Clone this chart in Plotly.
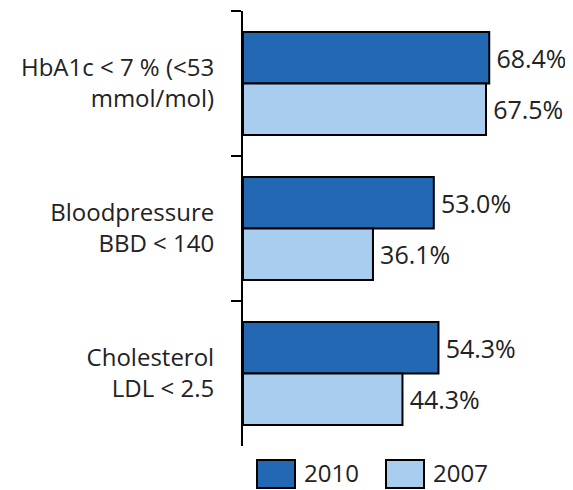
import plotly.graph_objects as go

categories = ["HbA1c < 7 % (<53<br>mmol/mol)", "Bloodpressure<br>BBD < 140", "Cholesterol<br>LDL < 2.5"]
series_names = ["2010", "2007"]
values_2010 = [68.4, 53.0, 54.3]
values_2007 = [67.5, 36.1, 44.3]
colors = ["#2268B2", "#A9CDEE"]

VW, VH = 573, 490
OFF = 8  # page body margin offset of the browser
W, H = VW - OFF, VH - OFF
# target screen positions: axis x=243, plot top y=11, plot bottom y=446
ML = 243 - OFF
MT = 11 - OFF
MB = H - (446 - OFF)
MR = W - ML - 300
FONT = "Open Sans, Noto Sans, sans-serif"
FS_LAB = 24
FS_VAL = 25
FS_LEG = 24

fig = go.Figure()
for name, vals, col in zip(series_names, [values_2010, values_2007], colors):
    fig.add_trace(go.Bar(
        y=categories, x=vals, name=name, orientation="h",
        marker=dict(color=col, line=dict(color="black", width=2)),
        text=[f"\u2009{v:.1f}%" for v in vals], textposition="outside",
        textfont=dict(size=FS_VAL, color="#222", family=FONT),
        cliponaxis=False, showlegend=False,
    ))

# custom legend (large swatches) in paper coordinates
pw = W - ML - MR
ph = H - MT - MB
def px_to_paper_x(px):
    return (px - OFF - ML) / pw
def px_to_paper_y(py):
    return (H - MB - (py - OFF)) / ph

legend_x = [257, 386]
for i, (name, col) in enumerate(zip(series_names, colors)):
    fig.add_shape(type="rect", xref="paper", yref="paper",
                  x0=px_to_paper_x(legend_x[i]), x1=px_to_paper_x(legend_x[i] + 38),
                  y0=px_to_paper_y(460), y1=px_to_paper_y(488),
                  fillcolor=col, line=dict(color="black", width=2))
    fig.add_annotation(xref="paper", yref="paper", x=px_to_paper_x(legend_x[i] + 46),
                       y=px_to_paper_y(473), text=name, showarrow=False,
                       xanchor="left", yanchor="middle", borderpad=0,
                       font=dict(size=FS_LEG, color="#222", family=FONT))

fig.update_layout(
    template="none",
    width=W, height=H, barmode="group", bargap=0.29, bargroupgap=0,
    margin=dict(l=ML, r=MR, t=MT, b=MB, autoexpand=False),
    plot_bgcolor="white", paper_bgcolor="white",
    font=dict(family=FONT, size=FS_LAB, color="#222"),
    xaxis=dict(range=[0, pw / 3.6], visible=False, fixedrange=True, automargin=False),
    yaxis=dict(autorange="reversed", showline=True, linecolor="black", linewidth=2,
               ticks="outside", tickson="boundaries", ticklen=10, tickwidth=2,
               tickcolor="black", tickfont=dict(size=FS_LAB, color="#222", family=FONT),
               showgrid=False, zeroline=False, ticklabelstandoff=22, automargin=False),
)

fig.write_html("out.html")
